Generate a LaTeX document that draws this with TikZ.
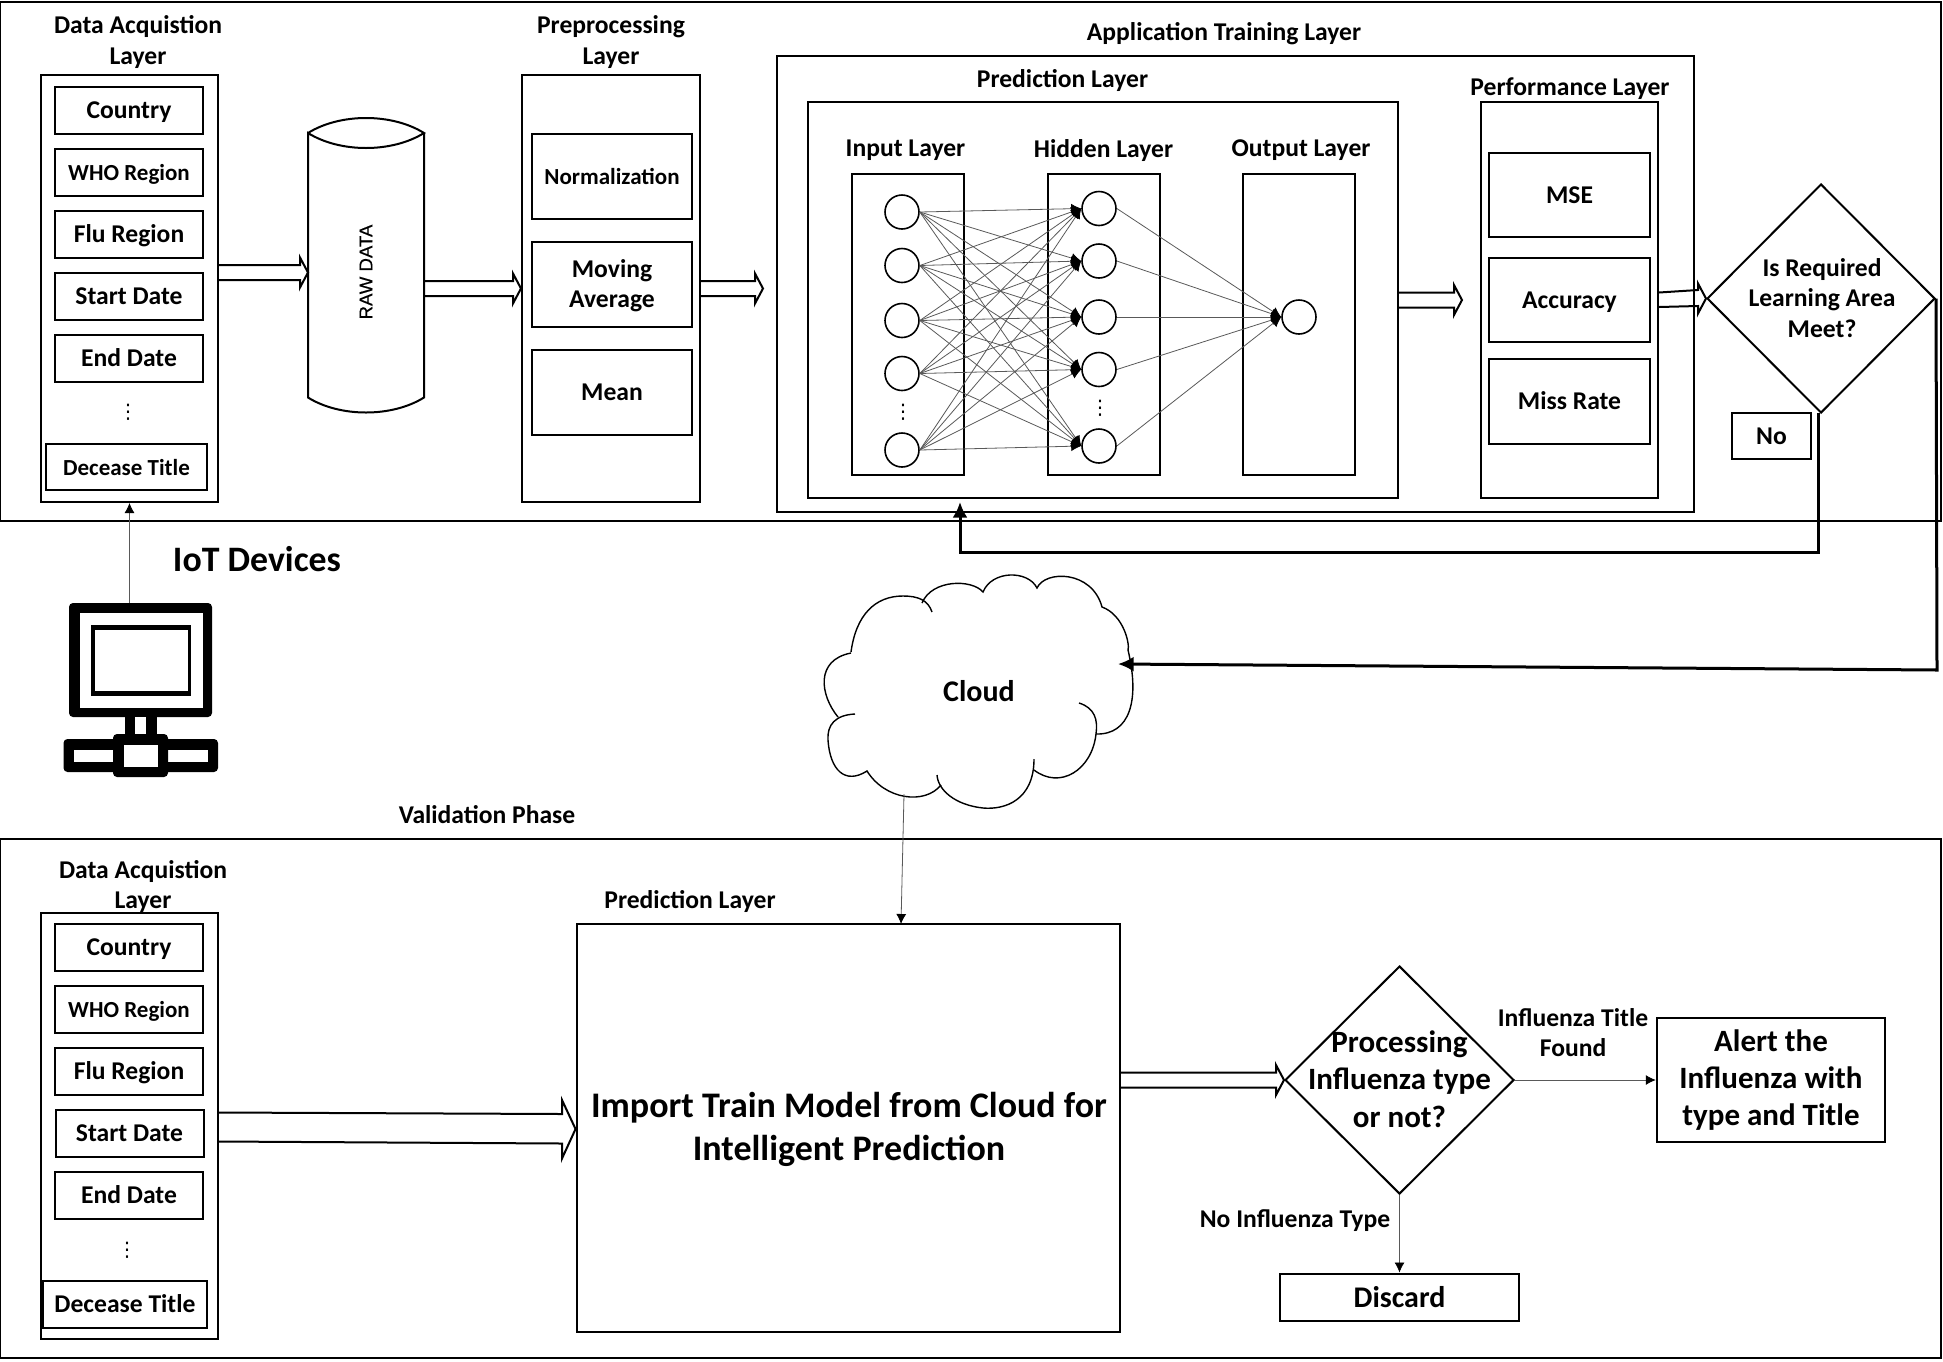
\documentclass[tikz,border=0pt]{standalone}
\usepackage{fontspec}
\setmainfont{Carlito}
\newfontfamily\dotsfont{DejaVu Sans}
\newfontfamily\rawfont[FakeBold=0.4]{Liberation Sans}
\usetikzlibrary{arrows.meta,calc,shapes.geometric}
\def\hollowarrow(#1)(#2){\draw[boxline] ($(#1)+(0,-7.5)$) -- ($(#2)+(-8,-7.5)$) -- ($(#2)+(-8,-15)$) -- (#2) -- ($(#2)+(-8,15)$) -- ($(#2)+(-8,7.5)$) -- ($(#1)+(0,7.5)$);}
\def\sizetxt#1#2{\fontsize{#1}{#2}\selectfont\bfseries}
\tikzset{
	boxline/.style={line width=1pt},
	sz/.style 2 args={minimum width=#1*0.5pt, minimum height=#2*0.5pt, inner sep=0pt},
	frame/.style={draw, boxline, rectangle},
	itembox/.style={frame, sz={148}{47}, text height=8pt, text depth=0pt, font=\sizetxt{12.8}{15}},
	stepbox/.style={frame, sz={160}{85}, font=\sizetxt{12.8}{15}, align=center},
	perfbox/.style={frame, sz={161}{84.5}, text height=8pt, text depth=0pt, font=\sizetxt{12.8}{15}},
	layerbox/.style={frame, sz={112}{300.5}},
	unit/.style={draw, line width=0.8pt, circle, minimum size=34*0.5pt, inner sep=0pt},
	smalltxt/.style={font=\sizetxt{11.5}{14}},
	headtxt/.style={inner sep=0pt, align=center, font=\sizetxt{12.8}{15.2}},
	dotstxt/.style={inner sep=0pt, font=\fontsize{10}{12}\dotsfont},
	bigtxt/.style={inner sep=0pt, align=center, font=\sizetxt{15.5}{18.7}},
	decide/.style={draw, boxline, diamond, inner sep=0pt},
	thinarrow/.style={line width=0.4pt, color=black!65, -{Latex[length=5pt,width=5pt,color=black]}},
	thickarrow/.style={line width=1.5pt, -{Latex[length=7.8pt,width=7.5pt]}}
}

\begin{document}
\begin{tikzpicture}[x=0.5pt,y=-0.5pt]
		%%%%% START %%%%%
		\useasboundingbox (0,0) rectangle (1943,1361);
		
		\node[frame, sz={1941}{519}] (trainframe) at (970.5,261.5) {};
		\node[frame, sz={1941}{519}] (validframe) at (970.5,1098.5) {};
		
		\node[frame, sz={177}{427}] (daqbox) at (129.5,288.5) {};
		\node[headtxt] (daqlabel) at (138,42) {Data Acquistion\\Layer};
		\node[itembox] (country) at (129,110) {Country};
		\node[itembox, smalltxt] (who) at (129,172) {WHO Region};
		\node[itembox] (flu) at (129,234) {Flu Region};
		\node[itembox] (start) at (129,296) {Start Date};
		\node[itembox] (end) at (129,358) {End Date};
		\node[dotstxt] (daqdots) at (128,412) {⋮};
		\node[itembox, sz={161}{46}, smalltxt] (title) at (126.5,467) {Decease Title};
		
		\draw[boxline] (308,133) .. controls (340,113) and (392,113) .. (424,133) .. controls (392,153) and (340,153) .. (308,133) -- (308,397.5) .. controls (340,417.5) and (392,417.5) .. (424,397.5) -- (424,133);
		\node[rotate=90, inner sep=0pt, font=\fontsize{9.3}{11}\rawfont] (rawtxt) at (366,272) {RAW DATA};
		\coordinate (rawin) at (308,272.5);
		\coordinate (rawout) at (424,288.5);
		
		\node[frame, sz={178}{427}] (prebox) at (611,288.5) {};
		\node[headtxt] (prelabel) at (611,42) {Preprocessing\\Layer};
		\node[stepbox, smalltxt] (norm) at (612,176) {Normalization};
		\node[stepbox] (moving) at (612,284) {};
		\node[headtxt] (movingtxt) at (612,285.5) {Moving\\Average};
		\node[stepbox] (mean) at (612,392.5) {Mean};
		
		\coordinate (preout) at (763,288.5);
		\hollowarrow(daqbox.east |- rawin)(rawin)
		\hollowarrow(rawout)(prebox.west |- rawout)
		\hollowarrow(prebox.east |- preout)(preout)
		
		\node[frame, sz={917}{456}] (appbox) at (1235,284) {};
		\node[headtxt] (applabel) at (1224,34) {Application Training Layer};
		\node[frame, sz={590}{396}] (predbox) at (1103,300) {};
		\node[headtxt] (predlabel) at (1062.5,80.5) {Prediction Layer};
		
		\node[layerbox] (inbox) at (908,324.5) {};
		\node[layerbox] (hidbox) at (1103.5,324.5) {};
		\node[layerbox] (outbox) at (1299,324.5) {};
		\node[headtxt] (inlabel) at (905.5,150.5) {Input Layer};
		\node[headtxt] (hidlabel) at (1103.5,150.5) {Hidden Layer};
		\node[headtxt] (outlabel) at (1301,150.5) {Output Layer};
		
		\foreach \idx/\ypos in {1/212,2/265.5,3/320.5,4/373.5,5/450}
			\node[unit] (in\idx) at (902,\ypos) {};
		\foreach \idx/\ypos in {1/208.5,2/261,3/317,4/369.5,5/446}
			\node[unit] (hid\idx) at (1099,\ypos) {};
		\node[unit] (out1) at (1299,317) {};
		\node[dotstxt] (indots) at (903,412) {⋮};
		\node[dotstxt] (hiddots) at (1100,408) {⋮};
		
		\foreach \i in {1,...,5}
			\foreach \j in {1,...,5}
				\draw[thinarrow] (in\i.east) -- (hid\j.west);
		\foreach \j in {1,...,5}
			\draw[thinarrow] (hid\j.east) -- (out1.west);
		
		\node[frame, sz={177}{396}] (perfbox) at (1569.5,300) {};
		\node[headtxt] (perflabel) at (1570,88.5) {Performance Layer};
		\node[perfbox] (mse) at (1569.5,195) {MSE};
		\node[perfbox] (acc) at (1569.5,300) {Accuracy};
		\node[perfbox] (miss) at (1569.5,401.5) {Miss Rate};
		
		\coordinate (predout) at (1462,300);
		\hollowarrow(predbox.east |- predout)(predout)
		
		\node[decide, minimum width=114pt, minimum height=114.5pt] (reqdiamond) at (1821,298.5) {};
		\node[headtxt] (reqtxt) at (1822,298) {Is Required\\Learning Area\\Meet?};
		\draw[boxline] (perfbox.east |- 0,292.5) -- ($(reqdiamond.west)+(-8,-8.5)$) -- ($(reqdiamond.west)+(-8,-15)$) -- (reqdiamond.west) -- ($(reqdiamond.west)+(-8,15)$) -- ($(reqdiamond.west)+(-8,7.5)$) -- (perfbox.east |- 0,307);
		\node[frame, sz={78.5}{46.5}, font=\sizetxt{12.8}{15}] (nobox) at (1771.5,436) {No};
		
		\coordinate (retrain) at (960,502);
		\draw[thickarrow] (1818,413) -- (1818,552) -- (960,552) -- (retrain);
		
		\node[font=\sizetxt{17.9}{20}, inner sep=0pt] (iotlabel) at (257,559) {IoT Devices};
		\coordinate (pctop) at (daqbox.south |- 0,603);
		\draw[thinarrow] (pctop) -- (daqbox.south);
		\fill[rounded corners=2pt] (69,603) rectangle (212,717);
		\fill[white] (80,613) rectangle (203,708);
		\fill (91,625) rectangle (190.5,696);
		\fill[white] (95,630) rectangle (187.5,691);
		\fill (125,717) rectangle (157,740);
		\fill[white] (134.7,717) rectangle (146,734);
		\fill[rounded corners=2pt] (63.5,739) rectangle (218,772);
		\fill[white] (73.5,750) rectangle (113,762);
		\fill[white] (168,750) rectangle (208,762);
		\fill[rounded corners=2pt] (113,734) rectangle (168,777);
		\fill[white] (124,745) rectangle (158,767);
		
		\draw[line width=0.7pt] (851,652) .. controls (856,615) and (875,596) .. (903,596) .. controls (918,596) and (928,600) .. (932,612);
		\draw[line width=0.7pt] (922,603) .. controls (932,579) and (972,579) .. (983,592) .. controls (992,570) and (1028,570) .. (1037,588) .. controls (1045,570) and (1092,570) .. (1102,607) .. controls (1124,615) and (1130,645) .. (1128,650) .. controls (1140,700) and (1130,735) .. (1096,734);
		\draw[line width=0.7pt] (1079,703) .. controls (1095,708) and (1098,720) .. (1096,734) .. controls (1092,770) and (1060,790) .. (1034,770);
		\draw[line width=0.7pt] (1034,759) .. controls (1034,800) and (1005,810) .. (983,808) .. controls (955,805) and (938,790) .. (937,775);
		\draw[line width=0.7pt] (941,785) .. controls (925,805) and (885,800) .. (867,771) .. controls (845,785) and (830,770) .. (828,740) .. controls (827,725) and (835,715) .. (855,714);
		\draw[line width=0.7pt] (838,717) .. controls (820,695) and (815,660) .. (851,653);
		\node[font=\sizetxt{15}{18}, inner sep=0pt] (cloudtxt) at (979,691) {Cloud};
		\coordinate (cloudin) at (1118,664);
		\coordinate (cloudout) at (904,794);
		\draw[thickarrow] (reqdiamond.east) -- (1937,670) -- (cloudin);
		
		\node[headtxt] (validlabel) at (487,815) {Validation Phase};
		
		\node[frame, sz={177}{426.5}] (vdaqbox) at (129.5,1126) {};
		\node[headtxt] (vdaqlabel) at (143,886.5) {Data Acquistion\\Layer};
		\node[itembox] (vcountry) at (129,947.5) {Country};
		\node[itembox, smalltxt] (vwho) at (129,1009.5) {WHO Region};
		\node[itembox] (vflu) at (129,1071.5) {Flu Region};
		\node[itembox] (vstart) at (129.5,1133.5) {Start Date};
		\node[itembox] (vend) at (129,1195.5) {End Date};
		\node[dotstxt] (vdaqdots) at (127,1250.5) {⋮};
		\node[itembox, sz={164}{47}] (vtitle) at (125,1304.5) {Decease Title};
		
		\node[frame, sz={543.5}{407.5}] (importbox) at (848.3,1128) {};
		\node[headtxt] (implabel) at (690,901.5) {Prediction Layer};
		\node[inner sep=0pt, align=center, font=\sizetxt{18}{21.7}] (importtxt) at (849,1129.5) {Import Train Model from Cloud for\\Intelligent Prediction};
		\draw[thinarrow] (cloudout) -- (901,924);
		
		\draw[boxline] (vdaqbox.east |- 0,1112.5) -- (562,1114) -- (562,1100) -- (importbox.west |- 0,1129) -- (562,1158.5) -- (562,1143.5) -- (vdaqbox.east |- 0,1141.5);
		
		\node[decide, minimum width=114.5pt, minimum height=114pt] (procdiamond) at (1399.5,1080) {};
		\node[bigtxt] (proctxt) at (1399.5,1079) {Processing\\Influenza type\\or not?};
		\hollowarrow(importbox.east |- procdiamond.west)(procdiamond.west)
		
		\node[frame, sz={228.5}{124.5}, font=\sizetxt{15.5}{18.7}, align=center] (alertbox) at (1771,1080) {Alert the\\Influenza with\\type and Title};
		\node[frame, sz={239.5}{47}, font=\sizetxt{15}{18}] (discardbox) at (1399.5,1297) {Discard};
		\draw[thinarrow] (procdiamond.east) -- (alertbox.west);
		\draw[thinarrow] (procdiamond.south) -- (discardbox.north);
		\node[headtxt] (foundlabel) at (1573,1032.5) {Influenza Title\\Found};
		\node[headtxt] (nolabel) at (1295,1220.5) {No Influenza Type};
		
		%%%%% END %%%%%
	\end{tikzpicture}
\end{document}
